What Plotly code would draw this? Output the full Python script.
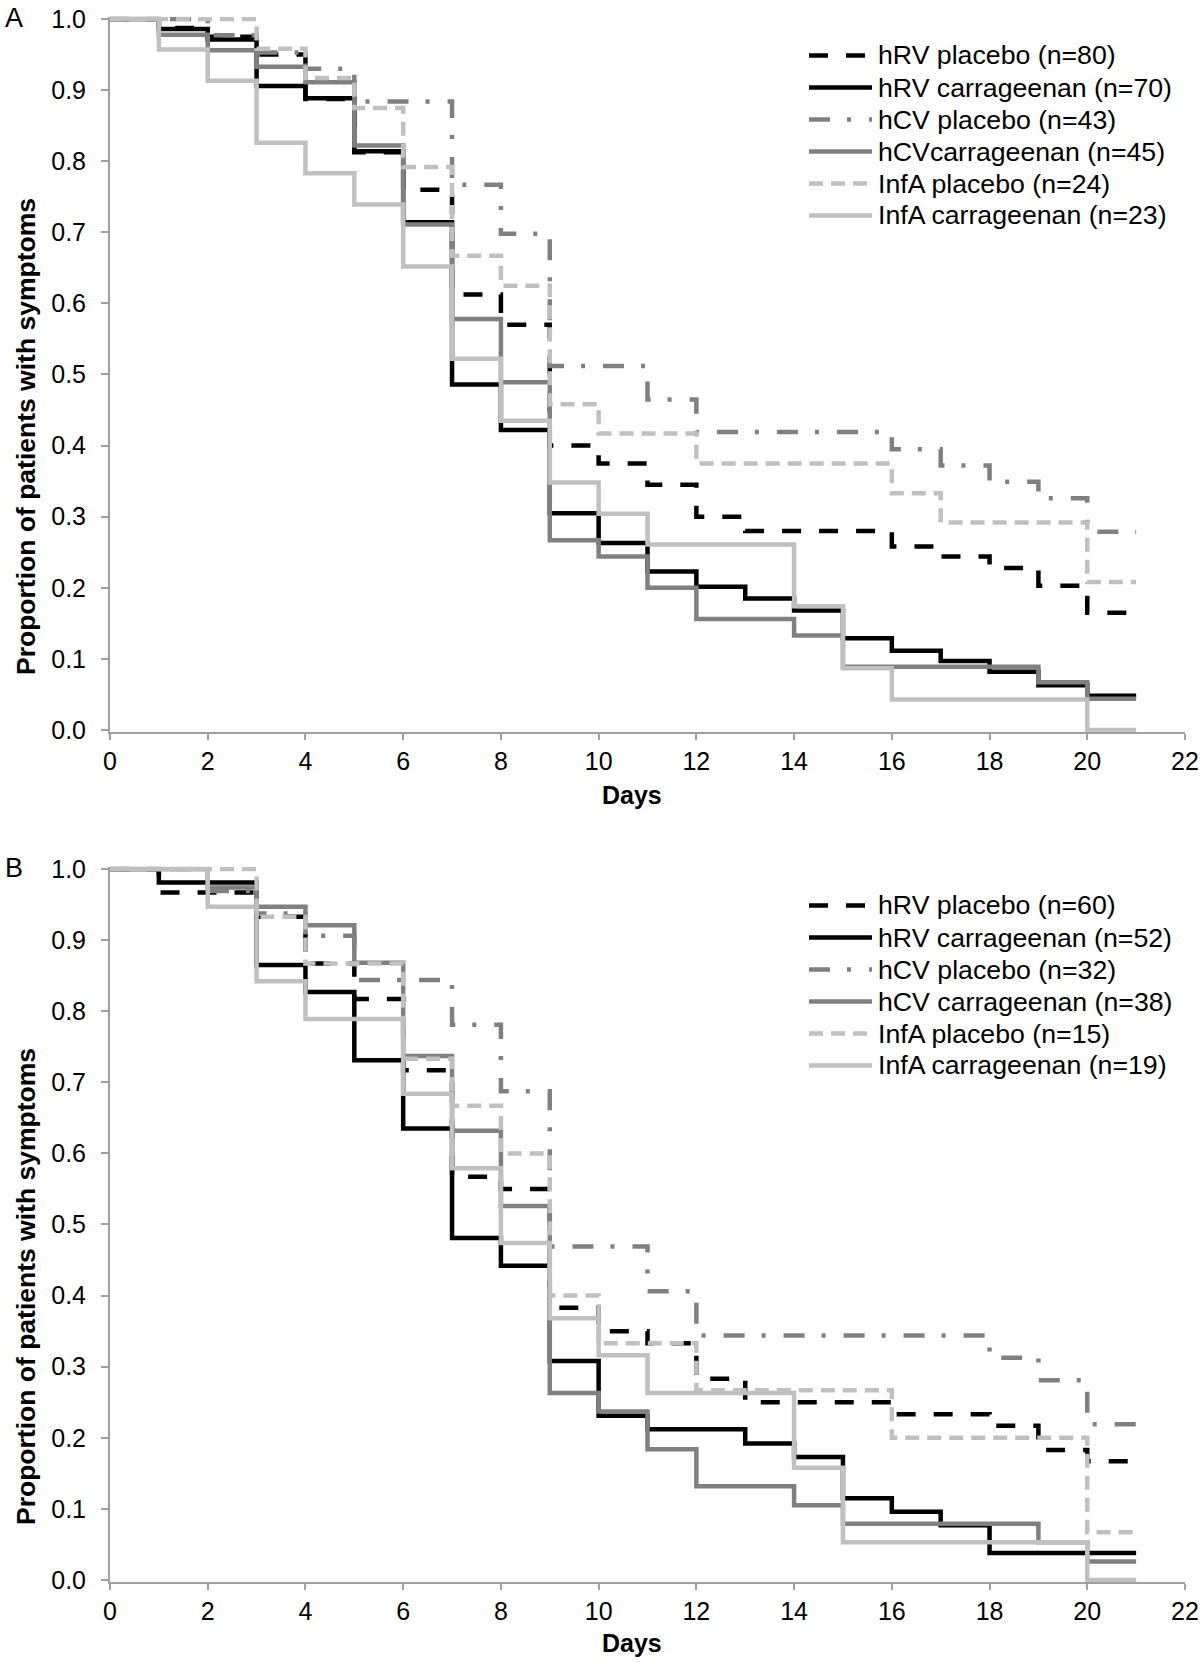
import plotly.graph_objects as go

# ---------------- data ----------------
days = list(range(22))  # value at day d holds on interval [d, d+1)
x_ticks = [0, 2, 4, 6, 8, 10, 12, 14, 16, 18, 20, 22]
y_ticks = [0.0, 0.1, 0.2, 0.3, 0.4, 0.5, 0.6, 0.7, 0.8, 0.9, 1.0]

x_title = "Days"
y_title = "Proportion of patients with symptoms"

labels_a = ["hRV placebo (n=80)", "hRV carrageenan (n=70)", "hCV placebo (n=43)",
            "hCVcarrageenan (n=45)", "InfA placebo (n=24)", "InfA carrageenan (n=23)"]
labels_b = ["hRV placebo (n=60)", "hRV carrageenan (n=52)", "hCV placebo (n=32)",
            "hCV carrageenan (n=38)", "InfA placebo (n=15)", "InfA carrageenan (n=19)"]

# Panel A
hrv_placebo_a = [1.0, 0.9875, 0.975, 0.95, 0.8875, 0.8125, 0.76, 0.6125, 0.57, 0.40, 0.375,
                 0.345, 0.30, 0.28, 0.28, 0.28, 0.258, 0.244, 0.228, 0.203, 0.165, 0.165]
hrv_carr_a = [1.0, 0.986, 0.971, 0.9057, 0.8886, 0.814, 0.714, 0.486, 0.422, 0.305, 0.263,
              0.223, 0.2016, 0.185, 0.168, 0.129, 0.1115, 0.097, 0.082, 0.063, 0.048, 0.048]
hcv_placebo_a = [1.0, 1.0, 0.977, 0.953, 0.930, 0.884, 0.884, 0.767, 0.698, 0.512, 0.512,
                 0.465, 0.419, 0.419, 0.419, 0.419, 0.395, 0.372, 0.349, 0.326, 0.279, 0.279]
hcv_carr_a = [1.0, 0.978, 0.956, 0.933, 0.911, 0.822, 0.711, 0.578, 0.489, 0.267, 0.244,
              0.2, 0.156, 0.156, 0.133, 0.089, 0.089, 0.089, 0.089, 0.067, 0.044, 0.044]
infa_placebo_a = [1.0, 1.0, 1.0, 0.958, 0.917, 0.875, 0.792, 0.667, 0.625, 0.458, 0.417,
                  0.417, 0.375, 0.375, 0.375, 0.375, 0.333, 0.292, 0.292, 0.292, 0.208, 0.208]
infa_carr_a = [1.0, 0.957, 0.913, 0.826, 0.783, 0.739, 0.652, 0.522, 0.435, 0.348, 0.304,
               0.261, 0.261, 0.261, 0.174, 0.087, 0.043, 0.043, 0.043, 0.043, 0.0, 0.0]

# Panel B
hrv_placebo_b = [1.0, 0.967, 0.967, 0.933, 0.867, 0.817, 0.717, 0.567, 0.55, 0.383, 0.35,
                 0.333, 0.283, 0.25, 0.25, 0.25, 0.233, 0.233, 0.217, 0.183, 0.167, 0.167]
hrv_carr_b = [1.0, 0.981, 0.981, 0.865, 0.827, 0.731, 0.635, 0.481, 0.442, 0.308, 0.231,
              0.212, 0.212, 0.192, 0.173, 0.115, 0.096, 0.077, 0.038, 0.038, 0.038, 0.038]
hcv_placebo_b = [1.0, 1.0, 0.969, 0.9375, 0.906, 0.844, 0.844, 0.781, 0.6875, 0.469, 0.469,
                 0.406, 0.344, 0.344, 0.344, 0.344, 0.344, 0.344, 0.3125, 0.281, 0.219, 0.219]
hcv_carr_b = [1.0, 1.0, 0.974, 0.947, 0.921, 0.868, 0.737, 0.632, 0.526, 0.263, 0.237,
              0.184, 0.132, 0.132, 0.105, 0.079, 0.079, 0.079, 0.079, 0.053, 0.026, 0.026]
infa_placebo_b = [1.0, 1.0, 1.0, 0.933, 0.867, 0.867, 0.733, 0.667, 0.6, 0.4, 0.333,
                  0.333, 0.267, 0.267, 0.267, 0.267, 0.2, 0.2, 0.2, 0.2, 0.067, 0.067]
infa_carr_b = [1.0, 1.0, 0.947, 0.842, 0.789, 0.789, 0.684, 0.579, 0.474, 0.368, 0.316,
               0.263, 0.263, 0.263, 0.158, 0.053, 0.053, 0.053, 0.053, 0.053, 0.0, 0.0]

series_a = [hrv_placebo_a, hrv_carr_a, hcv_placebo_a, hcv_carr_a, infa_placebo_a, infa_carr_a]
series_b = [hrv_placebo_b, hrv_carr_b, hcv_placebo_b, hcv_carr_b, infa_placebo_b, infa_carr_b]

# ---------------- styles ----------------
BLACK, DARK, LIGHT = "#000000", "#808080", "#c0c0c0"
styles = [
    (BLACK, "19px,18px"),
    (BLACK, "solid"),
    (DARK, "21px,17px,4px,18px"),
    (DARK, "solid"),
    (LIGHT, "14px,8px"),
    (LIGHT, "solid"),
]
LW = 4.5
FONT = "Liberation Sans, Arial, sans-serif"
AXC = "#a0a0a0"

W, H = 1200, 1662
ML, MR, MT, MB = 110, 15, 10, 70
PLOT_TOP, PLOT_BOT = MT, H - MB
PLOT_H = PLOT_BOT - PLOT_TOP
PLOT_W = W - ML - MR

YR = [-0.003, 1.003]
PX_PER_UNIT = 711.0


def ypaper(py):
    return (PLOT_BOT - py) / PLOT_H


def xpaper(px):
    return (px - ML) / PLOT_W


def domain_for(top_one_px):
    top = top_one_px - (YR[1] - 1.0) * PX_PER_UNIT
    bot = top_one_px + (1.0 - YR[0]) * PX_PER_UNIT
    return [ypaper(bot), ypaper(top)]


panel_top = {"A": 19, "B": 869}
days_title_y = {"A": 795, "B": 1643}

fig = go.Figure()

for panel, series, labels, xa, ya in [("A", series_a, labels_a, "x", "y"),
                                       ("B", series_b, labels_b, "x2", "y2")]:
    for vals, lab, (col, dash) in zip(series, labels, styles):
        fig.add_trace(go.Scatter(
            x=days, y=vals, mode="lines", name=lab, xaxis=xa, yaxis=ya,
            line=dict(color=col, width=LW, dash=dash, shape="hv"),
            showlegend=False, hoverinfo="skip"))

axis_common = dict(showline=True, linecolor=AXC, linewidth=2, ticks="outside",
                   tickcolor=AXC, tickwidth=2, showgrid=False, zeroline=False,
                   tickfont=dict(family=FONT, size=25, color="#000"))

xaxis_cfg = dict(axis_common, range=[0, 22], tickvals=x_ticks, ticklen=6,
                 ticklabelstandoff=0)
yaxis_cfg = dict(axis_common, range=YR, tickvals=y_ticks, tickformat=".1f", ticklen=7,
                 ticklabelstandoff=10)

fig.update_layout(
    width=W, height=H,
    margin=dict(l=ML, r=MR, t=MT, b=MB, autoexpand=False),
    paper_bgcolor="white", plot_bgcolor="white",
    showlegend=False,
    xaxis=dict(xaxis_cfg, anchor="y", domain=[0, 1]),
    yaxis=dict(yaxis_cfg, anchor="x", domain=domain_for(panel_top["A"])),
    xaxis2=dict(xaxis_cfg, anchor="y2", domain=[0, 1]),
    yaxis2=dict(yaxis_cfg, anchor="x2", domain=domain_for(panel_top["B"])),
)

annotations = []
shapes = []
for panel in ["A", "B"]:
    off = panel_top[panel] - panel_top["A"]
    # panel letter
    annotations.append(dict(text=panel, xref="paper", yref="paper",
                            x=xpaper(3), y=ypaper(panel_top[panel] - 1),
                            xanchor="left", yanchor="middle", showarrow=False,
                            font=dict(family=FONT, size=27, color="#000")))
    # axis titles (placed as in the original, slightly off-centre)
    annotations.append(dict(text=x_title, xref="paper", yref="paper",
                            x=xpaper(632), y=ypaper(days_title_y[panel]),
                            xanchor="center", yanchor="middle", showarrow=False,
                            font=dict(family=FONT, size=25, color="#000", weight="bold")))
    annotations.append(dict(text=y_title, xref="paper", yref="paper", textangle=-90,
                            x=xpaper(26), y=ypaper(437 + off),
                            xanchor="center", yanchor="middle", showarrow=False,
                            font=dict(family=FONT, size=26.5, color="#000", weight="bold")))

# legends (drawn manually to match sample length and spacing)
LEG_X0, LEG_X1, LEG_TX = 809, 872, 876
LEG_ROW0, LEG_DY = 55.5, 32.0
for panel, labels in [("A", labels_a), ("B", labels_b)]:
    off = panel_top[panel] - panel_top["A"]
    for i, (lab, (col, dash)) in enumerate(zip(labels, styles)):
        py = LEG_ROW0 + off + i * LEG_DY
        shapes.append(dict(type="line", xref="paper", yref="paper",
                           x0=xpaper(LEG_X0), x1=xpaper(LEG_X1), y0=ypaper(py), y1=ypaper(py),
                           line=dict(color=col, width=LW, dash=dash)))
        annotations.append(dict(text=lab, xref="paper", yref="paper",
                                x=xpaper(LEG_TX), y=ypaper(py),
                                xanchor="left", yanchor="middle", showarrow=False,
                                font=dict(family=FONT, size=26.7, color="#000")))

fig.update_layout(annotations=annotations, shapes=shapes)

# remove the browser's default 8px body margin so the figure sits at the page origin
fig.write_html("out.html",
               config={"displayModeBar": False, "staticPlot": True},
               post_script="document.body.style.margin='0';document.body.style.overflow='hidden';")
